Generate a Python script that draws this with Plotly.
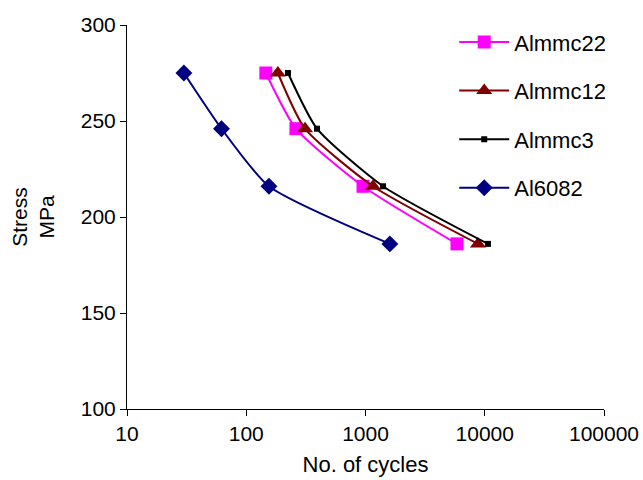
import plotly.graph_objects as go

stress = [275, 246, 216, 186]
cycles_almmc22 = [146, 261, 953, 5850]
cycles_almmc12 = [184, 311, 1156, 8770]
cycles_almmc3 = [224, 392, 1403, 10640]
cycles_al6082 = [30, 62, 155, 1600]

series = [
    ("Almmc22", cycles_almmc22, "#FF00FF", "square", 13),
    ("Almmc12", cycles_almmc12, "#800000", "triangle-up", 14),
    ("Almmc3", cycles_almmc3, "#000000", "square", 6),
    ("Al6082", cycles_al6082, "#000080", "diamond", 13),
]

fig = go.Figure()
for i, (name, xs, color, sym, size) in enumerate(series):
    fig.add_trace(go.Scatter(
        x=xs, y=stress, name=name, mode="lines+markers",
        line=dict(color=color, width=2, shape="spline", smoothing=0.6),
        marker=dict(symbol=sym, size=size, color=color),
        legendgroup=f"g{i}",
    ))

font = dict(family="Liberation Sans, Arial, sans-serif", size=21, color="#000")
fig.update_layout(
    width=643, height=480,
    margin=dict(l=127, r=39, t=25, b=71),
    plot_bgcolor="white", paper_bgcolor="white",
    font=font,
    showlegend=True,
    legend=dict(x=0.686, y=1.01, xanchor="left", yanchor="top",
                bgcolor="rgba(0,0,0,0)", tracegroupgap=17,
                font=dict(size=22), itemwidth=50),
    xaxis=dict(type="log", range=[1, 5], showgrid=False, zeroline=False,
               showline=True, linecolor="black", linewidth=1,
               ticks="outside", ticklen=6, tickcolor="black",
               tickvals=[10, 100, 1000, 10000, 100000],
               ticktext=["10", "100", "1000", "10000", "100000"],
               automargin=False,
               title=dict(text="No. of cycles", standoff=12, font=dict(size=22))),
    yaxis=dict(range=[100, 300], showgrid=False, zeroline=False,
               showline=True, linecolor="black", linewidth=1,
               ticks="outside", ticklen=6, tickcolor="black",
               tickvals=[100, 150, 200, 250, 300],
               automargin=False,
               title=dict(text="Stress<br>MPa", standoff=20, font=dict(size=21))),
)
fig.write_html("out.html")
